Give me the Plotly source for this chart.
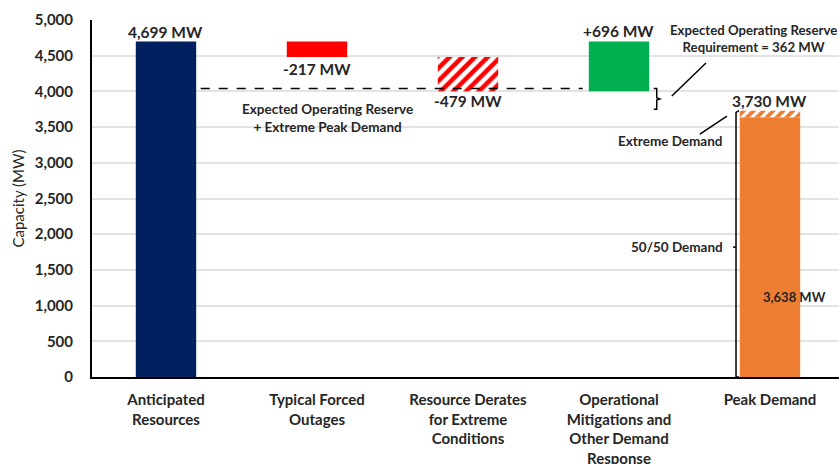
import plotly.graph_objects as go

# Waterfall of resources vs. peak demand (MW)
categories = [
    "Anticipated<br>Resources",
    "Typical Forced<br>Outages",
    "Resource Derates<br>for Extreme<br>Conditions",
    "Operational<br>Mitigations and<br>Other Demand<br>Response",
    "Peak Demand",
]
anticipated_resources = 4699
forced_outages = -217
extreme_derates = -479
mitigations = 696
demand_5050 = 3638
demand_extreme = 3730
reserve_requirement = 362
reserve_plus_extreme_line = 4040

y_ticks = [0, 500, 1000, 1500, 2000, 2500, 3000, 3500, 4000, 4500, 5000]

after_outages = anticipated_resources + forced_outages
after_derates = after_outages + extreme_derates

FONT = "Lato"
TXT = "#262626"
BAR_W = 0.4
xs = list(range(len(categories)))

fig = go.Figure()

fig.add_trace(go.Bar(x=[xs[0]], y=[anticipated_resources], base=[0], width=BAR_W,
                     marker=dict(color="#002060", line=dict(width=0))))
fig.add_trace(go.Bar(x=[xs[1]], y=[-forced_outages], base=[after_outages], width=BAR_W,
                     marker=dict(color="#FF0000", line=dict(width=0))))
fig.add_trace(go.Bar(x=[xs[2]], y=[-extreme_derates], base=[after_derates], width=BAR_W,
                     marker=dict(color="white", line=dict(width=0),
                                 pattern=dict(shape="/", fgcolor="#FF0000", bgcolor="white",
                                              fgopacity=1, size=9, solidity=0.5,
                                              fillmode="overlay"))))
fig.add_trace(go.Bar(x=[xs[3]], y=[mitigations], base=[after_derates], width=BAR_W,
                     marker=dict(color="#00B050", line=dict(width=0))))
fig.add_trace(go.Bar(x=[xs[4]], y=[demand_5050], base=[0], width=BAR_W,
                     marker=dict(color="#ED7D31", line=dict(width=0))))
fig.add_trace(go.Bar(x=[xs[4]], y=[demand_extreme - demand_5050], base=[demand_5050], width=BAR_W,
                     marker=dict(color="white", line=dict(width=0),
                                 pattern=dict(shape="/", fgcolor="#ED7D31", bgcolor="white",
                                              fgopacity=1, size=7, solidity=0.55,
                                              fillmode="overlay"))))

def label(x, y, text, yanchor="middle", xanchor="center", size=15.5, yshift=0, xshift=0):
    fig.add_annotation(x=x, y=y, text=text, showarrow=False, xanchor=xanchor, yanchor=yanchor,
                       yshift=yshift, xshift=xshift,
                       font=dict(family=FONT, size=size, color=TXT, weight="bold"))

# value labels
label(xs[0], anticipated_resources, f"{anticipated_resources:,} MW", yanchor="bottom", yshift=-2)
label(xs[1], after_outages, f"{forced_outages:,} MW", yanchor="top", yshift=-1)
label(xs[2], after_derates, f"{extreme_derates:,} MW", yanchor="top", yshift=1)
label(xs[3], anticipated_resources, f"+{mitigations:,} MW", yanchor="bottom", yshift=-1)
label(xs[4], demand_extreme, f"{demand_extreme:,} MW", yanchor="bottom", yshift=-1)
label(4.16, 1120, f"{demand_5050:,} MW", size=13)

# reserve + extreme demand threshold
fig.add_shape(type="line", x0=0.23, x1=2.76, y0=reserve_plus_extreme_line, y1=reserve_plus_extreme_line,
              line=dict(color="black", width=1.5, dash="dash"))
label(1.07, 3900, "Expected Operating Reserve<br>+ Extreme Peak Demand", yanchor="top", size=13.5)

# brace for the operating reserve requirement
bx, btop, bbot = 3.25, reserve_plus_extreme_line, demand_extreme + 20
bmid = (btop + bbot) / 2
fig.add_shape(type="path",
              path=(f"M {bx-0.02},{btop} L {bx},{btop} L {bx},{bmid+15} L {bx+0.02},{bmid} "
                    f"L {bx},{bmid-15} L {bx},{bbot} L {bx-0.02},{bbot}"),
              line=dict(color="black", width=1.5))
fig.add_shape(type="line", x0=3.35, y0=3935, x1=3.576, y1=4398, line=dict(color="black", width=1.5))
label(3.894, 4745, f"Expected Operating Reserve<br>Requirement = {reserve_requirement} MW", size=13.2)

# extreme demand callout
fig.add_shape(type="line", x0=3.536, y0=3403, x1=3.715, y1=3655, line=dict(color="black", width=1.5))
label(3.34, 3305, "Extreme Demand", size=13.5)

# bracket along the peak demand bar
vx = 3.775
fig.add_shape(type="path",
              path=(f"M {vx+0.02},{demand_extreme} L {vx},{demand_extreme-25} L {vx},0 "
                    f"L {vx+0.02},0"),
              line=dict(color="black", width=1.5))
fig.add_shape(type="line", x0=vx - 0.02, x1=vx, y0=demand_5050 / 2, y1=demand_5050 / 2,
              line=dict(color="black", width=1.5))
label(vx - 0.07, demand_5050 / 2, "50/50 Demand", xanchor="right", size=13.5)

fig.update_layout(
    width=839, height=464,
    margin=dict(l=92, r=0, t=20, b=87),
    plot_bgcolor="white", paper_bgcolor="white",
    showlegend=False, barmode="overlay",
    font=dict(family=FONT, color=TXT),
)
fig.update_xaxes(
    range=[-0.49, 4.457], tickmode="array", tickvals=xs, ticktext=categories,
    showgrid=False, zeroline=False, showline=True, linecolor="black", linewidth=2,
    ticks="", ticklabelstandoff=8, automargin=False,
    tickfont=dict(family=FONT, size=15, color=TXT, weight="bold"),
)
fig.update_yaxes(
    range=[0, 5000], tickmode="array", tickvals=y_ticks,
    ticktext=[f"{v:,}" for v in y_ticks],
    showgrid=True, gridcolor="#E3E3E3", gridwidth=1.5, zeroline=False,
    showline=True, linecolor="black", linewidth=2, ticks="", ticklabelstandoff=14,
    automargin=False,
    tickfont=dict(family=FONT, size=15, color=TXT, weight="bold"),
    title=dict(text="Capacity (MW)", font=dict(family=FONT, size=15, color=TXT), standoff=6),
)

fig.write_html("out.html")
